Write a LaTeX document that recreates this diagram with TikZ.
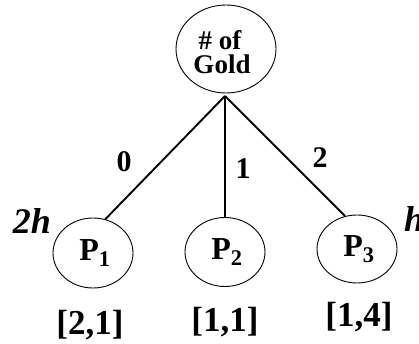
\documentclass[tikz,border=0pt]{standalone}
\usepackage{fontspec}
\setmainfont{Liberation Serif}
\usetikzlibrary{shapes.geometric}
\begin{document}
\begin{tikzpicture}[x=1pt,y=-1pt,
  circ/.style={draw,ellipse,line width=0.9pt,inner sep=0pt},
  edge/.style={line width=1.9pt},
  lbl/.style={font=\bfseries\fontsize{30}{30}\selectfont,inner sep=0pt},
  br/.style={font=\bfseries\fontsize{35}{35}\selectfont,inner sep=0pt},
  ptxt/.style={font=\bfseries\fontsize{32}{32}\selectfont,inner sep=0pt},
  wt/.style={font=\bfseries\itshape\fontsize{36}{36}\selectfont,inner sep=0pt}]
\useasboundingbox (0,0) rectangle (419,344);
\node[circ,minimum width=100,minimum height=88] (gold) at (226,49) {};
\node[font=\bfseries\fontsize{27}{27}\selectfont,inner sep=0pt] (goldt1) at (220,40) {\# of};
\node[font=\bfseries\fontsize{27}{27}\selectfont,inner sep=0pt] (goldt2) at (222,64) {Gold};
\node[circ,minimum width=80,minimum height=70] (p1) at (93,253) {};
\node[circ,minimum width=80,minimum height=69] (p2) at (225,252) {};
\node[circ,minimum width=80,minimum height=68] (p3) at (357,249) {};
\node[ptxt] (p1t) at (95,253) {P$_{\mathbf 1}$};
\node[ptxt] (p2t) at (227,252) {P$_{\mathbf 2}$};
\node[ptxt] (p3t) at (359,249) {P$_{\mathbf 3}$};
\coordinate (apex) at (225,96);
\draw[edge] (apex) -- (p1.70);
\draw[edge] (apex) -- (p2.north);
\draw[edge] (apex) -- (p3.110);
\node[lbl] (l0) at (124,162) {0};
\node[lbl] (l1) at (243,169) {1};
\node[lbl] (l2) at (320,158) {2};
\node[wt] (w1) at (32,221) {2h};
\node[wt,anchor=west] (w3) at (404,219) {h};
\node[br] (b1) at (90,325) {[2,1]};
\node[br] (b2) at (225,322) {[1,1]};
\node[br] (b3) at (359,317) {[1,4]};
\end{tikzpicture}
\end{document}
